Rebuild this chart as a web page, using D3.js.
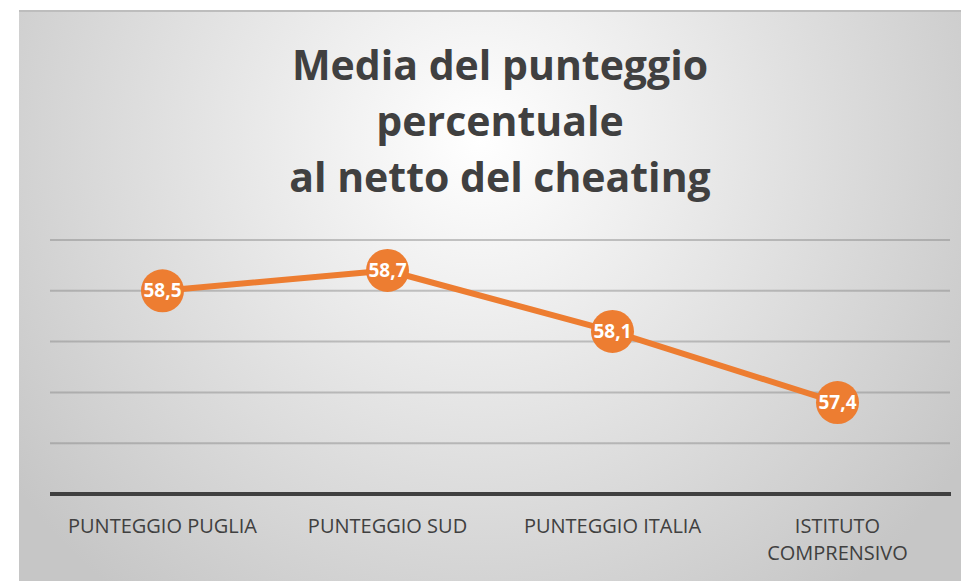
<!DOCTYPE html>
<html>
<head>
<meta charset="utf-8">
<script src="https://cdn.jsdelivr.net/npm/d3@7"></script>
<style>
  html, body { margin: 0; padding: 0; background: #fff; }
  svg { display: block; }
</style>
</head>
<body>
<div id="chart"></div>
<script>
var categories = ['PUNTEGGIO PUGLIA', 'PUNTEGGIO SUD', 'PUNTEGGIO ITALIA', 'ISTITUTO COMPRENSIVO'];
var values = [58.5, 58.7, 58.1, 57.4];
var valueLabels = ['58,5', '58,7', '58,1', '57,4'];
var yTicks = [56.5, 57, 57.5, 58, 58.5, 59];
var titleLines = ['Media del punteggio', 'percentuale', 'al netto del cheating'];

var W = 961, H = 581,
	orange = '#ED7D31';

var svg = d3.select('#chart')
	.append('svg')
	.attr('width', W)
	.attr('height', H);

var defs = svg.append('defs');
var grad = defs.append('radialGradient')
	.attr('id', 'bg')
	.attr('gradientUnits', 'userSpaceOnUse')
	.attr('cx', 480)
	.attr('cy', 140)
	.attr('r', 580);
grad.append('stop').attr('offset', '0%').attr('stop-color', '#ffffff');
grad.append('stop').attr('offset', '100%').attr('stop-color', '#c6c6c6');

// chart area
svg.append('rect')
	.attr('x', 19)
	.attr('y', 10)
	.attr('width', W - 19)
	.attr('height', H - 10)
	.attr('fill', 'url(#bg)');
svg.append('line')
	.attr('x1', 19).attr('x2', W)
	.attr('y1', 11).attr('y2', 11)
	.attr('stroke', '#bdbdbd')
	.attr('stroke-width', 2);

var xScale = d3.scaleBand()
	.domain(categories)
	.range([50, 950]);

var yScale = d3.scaleLinear()
	.domain([56.5, 59])
	.range([494, 240]);

// title
svg.append('text')
	.attr('text-anchor', 'middle')
	.attr('font-family', '"Open Sans", sans-serif')
	.attr('font-weight', 'bold')
	.attr('font-size', 41)
	.attr('fill', '#404040')
	.selectAll('tspan')
	.data(titleLines)
	.enter()
	.append('tspan')
	.attr('x', 500)
	.attr('y', function(d, i) { return 80 + i * 56; })
	.text(function(d) { return d; });

// gridlines
svg.append('g')
	.selectAll('line')
	.data(yTicks.slice(1))
	.enter()
	.append('line')
	.attr('x1', 50)
	.attr('x2', 950)
	.attr('y1', function(d) { return yScale(d); })
	.attr('y2', function(d) { return yScale(d); })
	.attr('stroke', 'rgba(130,130,130,0.45)')
	.attr('stroke-width', 2);

// baseline
svg.append('line')
	.attr('x1', 50)
	.attr('x2', 951)
	.attr('y1', yScale(yTicks[0]))
	.attr('y2', yScale(yTicks[0]))
	.attr('stroke', '#404040')
	.attr('stroke-width', 4);

// category labels
var xAxis = svg.append('g')
	.attr('font-family', '"Open Sans", sans-serif')
	.attr('font-size', 20)
	.attr('fill', '#404040')
	.attr('text-anchor', 'middle');

categories.forEach(function(c) {
	var cx = xScale(c) + xScale.bandwidth() / 2;
	var lines = c === 'ISTITUTO COMPRENSIVO' ? ['ISTITUTO', 'COMPRENSIVO'] : [c];
	var t = xAxis.append('text');
	lines.forEach(function(l, i) {
		t.append('tspan')
			.attr('x', cx)
			.attr('y', 533 + i * 27)
			.text(l);
	});
});

// line
var line = d3.line()
	.x(function(d, i) { return xScale(categories[i]) + xScale.bandwidth() / 2; })
	.y(function(d) { return yScale(d); });

svg.append('path')
	.datum(values)
	.attr('d', line)
	.attr('fill', 'none')
	.attr('stroke', orange)
	.attr('stroke-width', 6)
	.attr('stroke-linejoin', 'round');

var pts = svg.append('g')
	.selectAll('g')
	.data(values)
	.enter()
	.append('g')
	.attr('transform', function(d, i) {
		return 'translate(' + (xScale(categories[i]) + xScale.bandwidth() / 2) + ',' + yScale(d) + ')';
	});

pts.append('circle')
	.attr('r', 21.5)
	.attr('fill', orange);

pts.append('text')
	.attr('text-anchor', 'middle')
	.attr('dy', '0.35em')
	.attr('font-family', '"Open Sans", sans-serif')
	.attr('font-weight', 'bold')
	.attr('font-size', 19)
	.attr('fill', '#fff')
	.text(function(d, i) { return valueLabels[i]; });
</script>
</body>
</html>
